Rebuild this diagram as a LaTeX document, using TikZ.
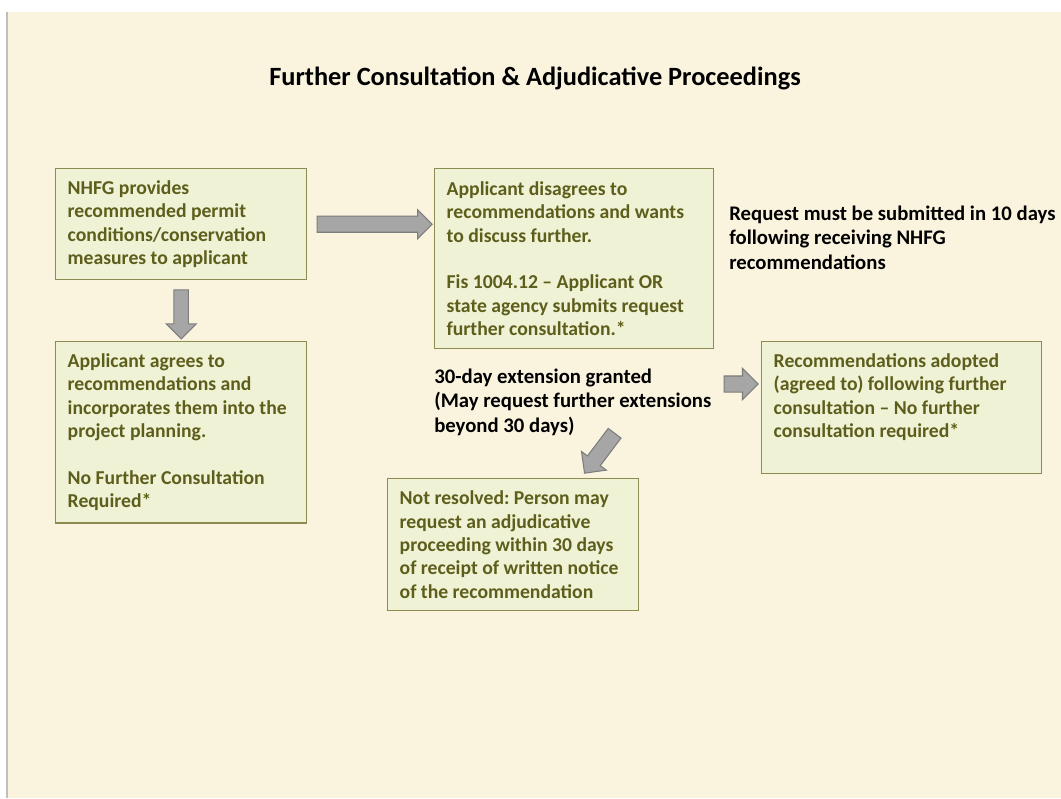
\documentclass[tikz,border=0pt]{standalone}
\usepackage{fontspec}
\setmainfont{Carlito}
\usetikzlibrary{shapes.arrows,positioning,calc}
\definecolor{pagebg}{RGB}{250,244,223}
\definecolor{boxfill}{RGB}{239,242,213}
\definecolor{boxline}{RGB}{140,140,80}
\definecolor{boxtext}{RGB}{94,94,28}
\definecolor{arrfill}{RGB}{166,166,166}
\definecolor{arrline}{RGB}{125,125,125}
\frenchspacing

\begin{document}
\begin{tikzpicture}[
  x=0.02cm, y=-0.02cm,
  font=\bfseries\fontsize{11.2}{13.3}\selectfont,
  box/.style    = {draw=boxline, fill=boxfill, text=boxtext, line width=0.8pt,
                   anchor=north west, align=flush left, inner xsep=0.24cm, inner ysep=0.24cm},
  note/.style   = {anchor=north west, align=flush left, inner sep=0pt,
                   font=\bfseries\fontsize{11.8}{13.7}\selectfont},
  fatarr/.style = {single arrow, draw=arrline, fill=arrfill, line width=0.6pt,
                   inner xsep=0pt, single arrow tip angle=90}
]
\useasboundingbox (0,0) rectangle (1061,798);
\fill[pagebg] (8,12) rectangle (1061,798);
\draw[gray!50, line width=1pt] (7,12) -- (7,798);

\node[font=\bfseries\fontsize{15}{18}\selectfont] (title) at (535,78)
     {Further Consultation \& Adjudicative Proceedings};

\node[box, text width=4.54cm, minimum height=2.16cm] (nhfg) at (55,168)
     {NHFG provides\\ recommended permit\\ conditions/conservation\\ measures to applicant};

\node[box, text width=4.54cm, minimum height=3.6cm] (agree) at (55,341)
     {Applicant agrees to\\ recommendations and\\ incorporates them into the\\ project planning.\\[13.3pt]
      No Further Consultation\\ Required*};

\node[box, text width=5.10cm, minimum height=3.6cm] (disagree) at (434,168)
     {Applicant disagrees to\\ recommendations and wants\\ to discuss further.\\[13.3pt]
      Fis 1004.12 – Applicant OR\\ state agency submits request\\ further consultation.*};

\node[box, text width=5.12cm, text depth=1.88cm] (adopted) at (761,341)
     {Recommendations adopted\\ (agreed to) following further\\ consultation – No further\\ consultation required*};

\node[box, text width=4.54cm, minimum height=2.64cm] (notresolved) at (387,478)
     {Not resolved: Person may\\ request an adjudicative\\ proceeding within 30 days\\ of receipt of written notice\\ of the recommendation};

\node[note] (request) at (729,206)
     {Request must be submitted in 10 days\\ following receiving NHFG\\ recommendations};

\node[note] (extension) at (434,369)
     {30-day extension granted\\ (May request further extensions\\ beyond 30 days)};

% block arrows
\node[fatarr, minimum height=2.3cm, inner ysep=0.15cm, single arrow head extend=0.13cm]
     (toDisagree) at ($(nhfg.east)!0.5!(disagree.west |- nhfg.east)$) {};
\node[fatarr, minimum height=0.98cm, inner ysep=0.135cm, single arrow head extend=0.155cm, rotate=-90]
     (toAgree) at ($(nhfg.south)!0.5!(agree.north)$) {};
\node[fatarr, minimum height=0.68cm, inner ysep=0.15cm, single arrow head extend=0.15cm]
     (toAdopted) at (737,384) {};
\node[fatarr, minimum height=1.0cm, inner ysep=0.15cm, single arrow head extend=0.15cm, rotate=233]
     (toNotresolved) at (602,450) {};

\end{tikzpicture}
\end{document}
